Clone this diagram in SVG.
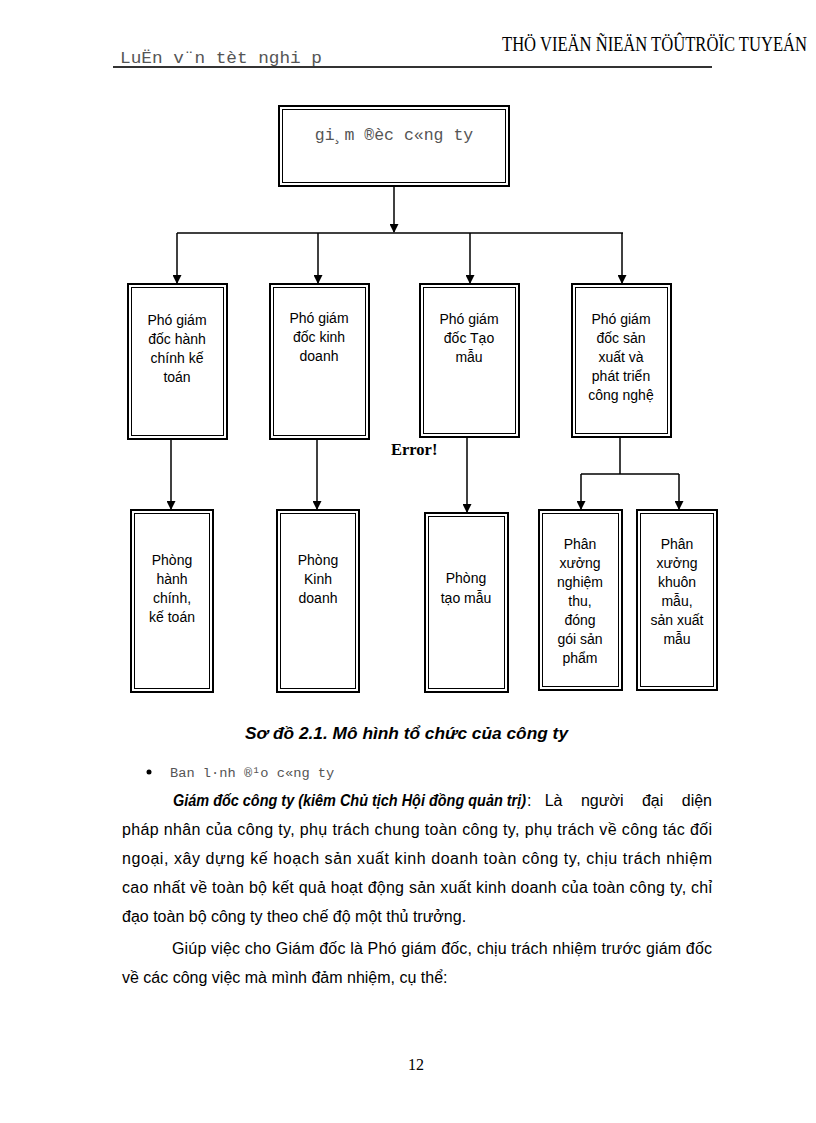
<svg xmlns="http://www.w3.org/2000/svg" width="816" height="1123" viewBox="0 0 816 1123">
<style>
.outer{fill:#fff;stroke:#000;stroke-width:2}
.inner{fill:none;stroke:#000;stroke-width:1}
.bt{font-family:"Liberation Sans",Arial,sans-serif;font-size:14px;fill:#000;text-anchor:middle}
.mono{font-family:"Liberation Mono","Courier New",monospace;fill:#555}
.body{font-family:"Liberation Sans",Arial,sans-serif;font-size:16px;fill:#000}
.conn line{stroke:#000;stroke-width:1.5;fill:none}
</style>
<defs>
<marker id="arr" markerWidth="9" markerHeight="9" refX="8" refY="4.5" orient="auto" markerUnits="userSpaceOnUse" viewBox="0 0 9 9">
<path d="M0,0 L9,4.5 L0,9 Z" fill="#000"/>
</marker>
</defs>
<rect width="816" height="1123" fill="#fff"/>

<g id="header">
<text x="120" y="63" class="mono" font-size="17" textLength="202" lengthAdjust="spacingAndGlyphs">LuËn v¨n tèt nghi p</text>
<text x="502" y="51" font-family="'Liberation Serif','Times New Roman',serif" font-size="20" fill="#000" textLength="305" lengthAdjust="spacingAndGlyphs">THÖ VIEÄN ÑIEÄN TÖÛTRÖÏC TUYEÁN</text>
<line x1="113" y1="67" x2="712" y2="67" stroke="#333" stroke-width="2"/>
</g>

<g class="conn" id="connectors">
<line x1="394" y1="186" x2="394" y2="232" marker-end="url(#arr)"/>
<line x1="177" y1="233" x2="623" y2="233"/>
<line x1="177" y1="233" x2="177" y2="283" marker-end="url(#arr)"/>
<line x1="318" y1="233" x2="318" y2="283" marker-end="url(#arr)"/>
<line x1="470" y1="233" x2="470" y2="283" marker-end="url(#arr)"/>
<line x1="622" y1="233" x2="622" y2="283" marker-end="url(#arr)"/>
<line x1="171" y1="440" x2="171" y2="509" marker-end="url(#arr)"/>
<line x1="317" y1="440" x2="317" y2="509" marker-end="url(#arr)"/>
<line x1="467" y1="437" x2="467" y2="512" marker-end="url(#arr)"/>
<line x1="620" y1="437" x2="620" y2="474"/>
<line x1="581" y1="474" x2="679" y2="474"/>
<line x1="581" y1="474" x2="581" y2="509" marker-end="url(#arr)"/>
<line x1="679" y1="474" x2="679" y2="509" marker-end="url(#arr)"/>
</g>

<g id="n-top">
<rect class="outer" x="279" y="106" width="230" height="80"/>
<rect class="inner" x="282.5" y="109.5" width="223" height="73"/>
<text x="394" y="140" class="mono" font-size="16.5" text-anchor="middle">gi¸m ®èc c«ng ty</text>
</g>

<g id="n-pgd1">
<rect class="outer" x="128" y="284" width="99" height="155"/>
<rect class="inner" x="131.5" y="287.5" width="92" height="148"/>
<text class="bt" x="177" y="325">Phó giám</text>
<text class="bt" x="177" y="344">đốc hành</text>
<text class="bt" x="177" y="363">chính kế</text>
<text class="bt" x="177" y="382">toán</text>
</g>

<g id="n-pgd2">
<rect class="outer" x="270" y="284" width="99" height="155"/>
<rect class="inner" x="273.5" y="287.5" width="92" height="148"/>
<text class="bt" x="319" y="323">Phó giám</text>
<text class="bt" x="319" y="342">đốc kinh</text>
<text class="bt" x="319" y="361">doanh</text>
</g>

<g id="n-pgd3">
<rect class="outer" x="420" y="284" width="99" height="153"/>
<rect class="inner" x="423.5" y="287.5" width="92" height="146"/>
<text class="bt" x="469" y="324">Phó giám</text>
<text class="bt" x="469" y="343">đốc Tạo</text>
<text class="bt" x="469" y="362">mẫu</text>
</g>

<g id="n-pgd4">
<rect class="outer" x="572" y="284" width="99" height="153"/>
<rect class="inner" x="575.5" y="287.5" width="92" height="146"/>
<text class="bt" x="621" y="324">Phó giám</text>
<text class="bt" x="621" y="343">đốc sản</text>
<text class="bt" x="621" y="362">xuất và</text>
<text class="bt" x="621" y="381">phát triển</text>
<text class="bt" x="621" y="400">công nghệ</text>
</g>

<text x="391" y="455" font-family="'Liberation Serif','Times New Roman',serif" font-size="16.5" font-weight="bold" fill="#000">Error!</text>

<g id="n-p1">
<rect class="outer" x="131" y="510" width="82" height="182"/>
<rect class="inner" x="134.5" y="513.5" width="75" height="175"/>
<text class="bt" x="172" y="565">Phòng</text>
<text class="bt" x="172" y="584">hành</text>
<text class="bt" x="172" y="603">chính,</text>
<text class="bt" x="172" y="622">kế toán</text>
</g>

<g id="n-p2">
<rect class="outer" x="277" y="510" width="82" height="182"/>
<rect class="inner" x="280.5" y="513.5" width="75" height="175"/>
<text class="bt" x="318" y="565">Phòng</text>
<text class="bt" x="318" y="584">Kinh</text>
<text class="bt" x="318" y="603">doanh</text>
</g>

<g id="n-p3">
<rect class="outer" x="425" y="513" width="83" height="179"/>
<rect class="inner" x="428.5" y="516.5" width="76" height="172"/>
<text class="bt" x="466" y="583">Phòng</text>
<text class="bt" x="466" y="603">tạo mẫu</text>
</g>

<g id="n-px1">
<rect class="outer" x="539" y="510" width="83" height="180"/>
<rect class="inner" x="542.5" y="513.5" width="76" height="173"/>
<text class="bt" x="580" y="549">Phân</text>
<text class="bt" x="580" y="568">xưởng</text>
<text class="bt" x="580" y="587">nghiệm</text>
<text class="bt" x="580" y="606">thu,</text>
<text class="bt" x="580" y="625">đóng</text>
<text class="bt" x="580" y="644">gói sản</text>
<text class="bt" x="580" y="663">phẩm</text>
</g>

<g id="n-px2">
<rect class="outer" x="637" y="510" width="80" height="180"/>
<rect class="inner" x="640.5" y="513.5" width="73" height="173"/>
<text class="bt" x="677" y="549">Phân</text>
<text class="bt" x="677" y="568">xưởng</text>
<text class="bt" x="677" y="587">khuôn</text>
<text class="bt" x="677" y="606">mẫu,</text>
<text class="bt" x="677" y="625">sản xuất</text>
<text class="bt" x="677" y="644">mẫu</text>
</g>

<g id="body">
<text x="245" y="739" font-family="'Liberation Sans',Arial,sans-serif" font-size="17.3" font-weight="bold" font-style="italic" textLength="323" lengthAdjust="spacingAndGlyphs">Sơ đồ 2.1. Mô hình tổ chức của công ty</text>
<circle cx="149" cy="772" r="2.5" fill="#000"/>
<text x="170" y="777" class="mono" font-size="13.7">Ban l·nh ®¹o c«ng ty</text>
<text x="173" y="806" class="body" font-weight="bold" font-style="italic" textLength="353" lengthAdjust="spacingAndGlyphs">Giám đốc công ty (kiêm Chủ tịch Hội đồng quản trị)</text>
<text x="527" y="806" class="body">:</text>
<text x="712" y="806" class="body" text-anchor="end" word-spacing="14">Là người đại diện</text>
<text x="122" y="835" class="body" textLength="590" lengthAdjust="spacing">pháp nhân của công ty, phụ trách chung toàn công ty, phụ trách về công tác đối</text>
<text x="122" y="864" class="body" textLength="590" lengthAdjust="spacing">ngoại, xây dựng kế hoạch sản xuất kinh doanh toàn công ty, chịu trách nhiệm</text>
<text x="122" y="893" class="body" textLength="590" lengthAdjust="spacing">cao nhất về toàn bộ kết quả hoạt động sản xuất kinh doanh của toàn công ty, chỉ</text>
<text x="122" y="922" class="body">đạo toàn bộ công ty theo chế độ một thủ trưởng.</text>
<text x="172" y="954" class="body" textLength="540" lengthAdjust="spacing">Giúp việc cho Giám đốc là Phó giám đốc, chịu trách nhiệm trước giám đốc</text>
<text x="122" y="983" class="body" font-size="16.2">về các công việc mà mình đảm nhiệm, cụ thể:</text>
<text x="408" y="1070" font-family="'Liberation Serif','Times New Roman',serif" font-size="16" fill="#000">12</text>
</g>
</svg>
